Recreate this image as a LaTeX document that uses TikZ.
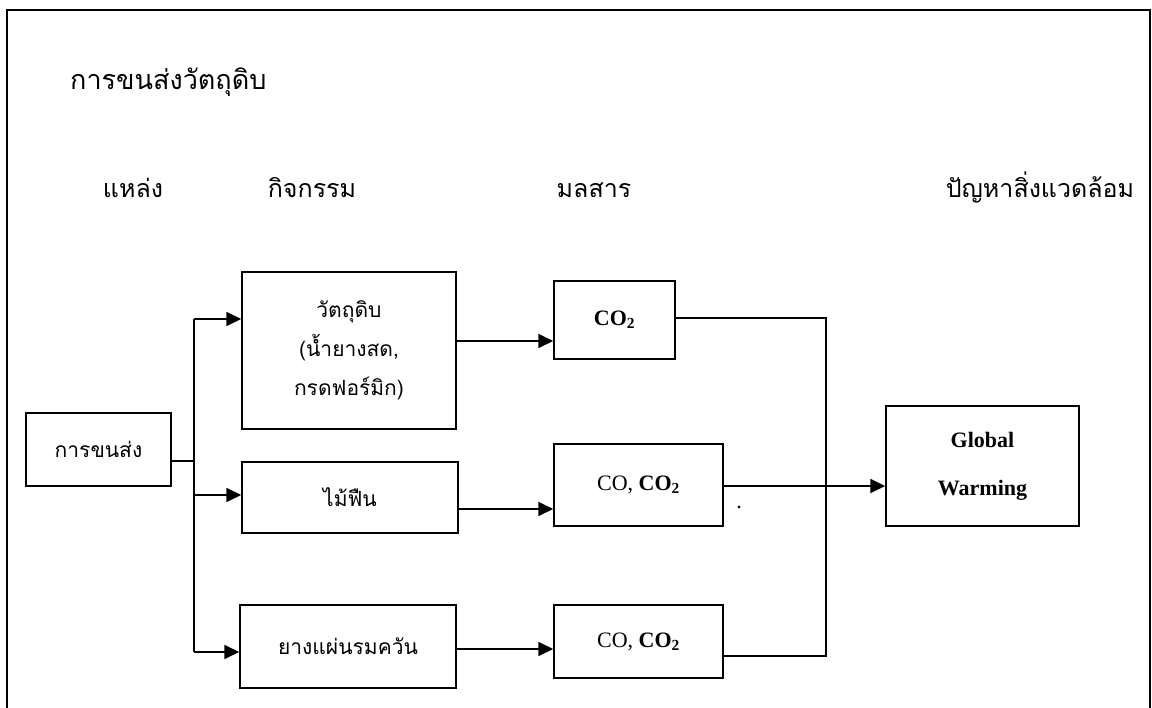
\documentclass[tikz,border=0pt]{standalone}
\usepackage{fontspec}
\setmainfont{Liberation Serif}
\newfontfamily\thai[Script=Thai]{Loma}
\usetikzlibrary{arrows.meta}
\begin{document}
\begin{tikzpicture}[x=1pt,y=-1pt,
  box/.style={draw, line width=1.5pt, inner sep=0pt, align=center},
  ln/.style={line width=1.8pt},
  thinln/.style={line width=1.2pt},
  arr/.style={ln, -{Triangle[length=15pt,width=14pt]}},
  head/.style={font=\thai\fontsize{25}{30}\selectfont, inner sep=0pt, anchor=base},
  thaibox/.style={font=\thai\fontsize{21}{39}\selectfont},
  latbox/.style={font=\fontsize{22}{26}\selectfont}]
\useasboundingbox (0,0) rectangle (1152,708);

% outer frame (runs past the lower edge of the page)
\draw[line width=2.5pt] (7,730) -- (7,10) -- (1150,10) -- (1150,730);

% title and column headings
\node[head, font=\thai\fontsize{27}{30}\selectfont, anchor=base west] (title) at (70,90) {การขนส่งวัตถุดิบ};
\node[head] (hsrc) at (133,198) {แหล่ง};
\node[head] (hact) at (312,198) {กิจกรรม};
\node[head] (hpol) at (594,198) {มลสาร};
\node[head] (henv) at (1040,198) {ปัญหาสิ่งแวดล้อม};

% source
\node[box, thaibox, minimum width=145pt, minimum height=73pt] (trans) at (98.5,449.5) {การขนส่ง};

% activities
\node[box, thaibox, minimum width=214pt, minimum height=157pt] (raw) at (349,350.5)
  {วัตถุดิบ\\(น้ำยางสด,\\กรดฟอร์มิก)};
\node[box, thaibox, minimum width=216pt, minimum height=71pt] (wood) at (350,497.5) {ไม้ฟืน};
\node[box, thaibox, minimum width=216pt, minimum height=83pt] (smoke) at (348,646.5) {ยางแผ่นรมควัน};

% pollutants
\node[box, latbox, minimum width=121pt, minimum height=78pt] (co2a) at (614.5,320) {\textbf{CO\textsubscript{2}}};
\node[box, latbox, minimum width=169pt, minimum height=82pt] (co2b) at (638.5,485) {CO, \textbf{CO\textsubscript{2}}};
\node[box, latbox, minimum width=169pt, minimum height=73pt] (co2c) at (638.5,641.5) {CO, \textbf{CO\textsubscript{2}}};
\node[latbox, inner sep=0pt] (dot) at (739,508) {.};

% environmental problem
\node[box, latbox, font=\bfseries\fontsize{22}{48}\selectfont, minimum width=193pt, minimum height=120pt] (gw) at (982.5,466)
  {Global\\Warming};

% branching from the source
\coordinate (jt) at (194,461);
\coordinate (b1) at (194,319);
\coordinate (b2) at (194,495);
\coordinate (b3) at (194,652);
\draw[ln] (trans.east |- jt) -- (jt);
\draw[ln] (b1) -- (b3);
\draw[arr] (b1) -- (raw.west |- b1);
\draw[arr] (b2) -- (wood.west |- b2);
\draw[arr] (b3) -- (smoke.west |- b3);

% activities to pollutants
\draw[arr] (raw.east |- 0,341) -- (co2a.west |- 0,341);
\draw[arr] (wood.east |- 0,509) -- (co2b.west |- 0,509);
\draw[arr] (smoke.east |- 0,649) -- (co2c.west |- 0,649);

% pollutants gathered into one line
\coordinate (c1) at (826,318);
\coordinate (c2) at (826,486);
\coordinate (c3) at (826,656);
\draw[ln] (co2a.east |- c1) -- (c1) -- (c3) -- (co2c.east |- c3);
\draw[thinln] (co2b.east |- c2) -- (c2);
\draw[arr] (c2) -- (gw.west |- c2);
\end{tikzpicture}
\end{document}
